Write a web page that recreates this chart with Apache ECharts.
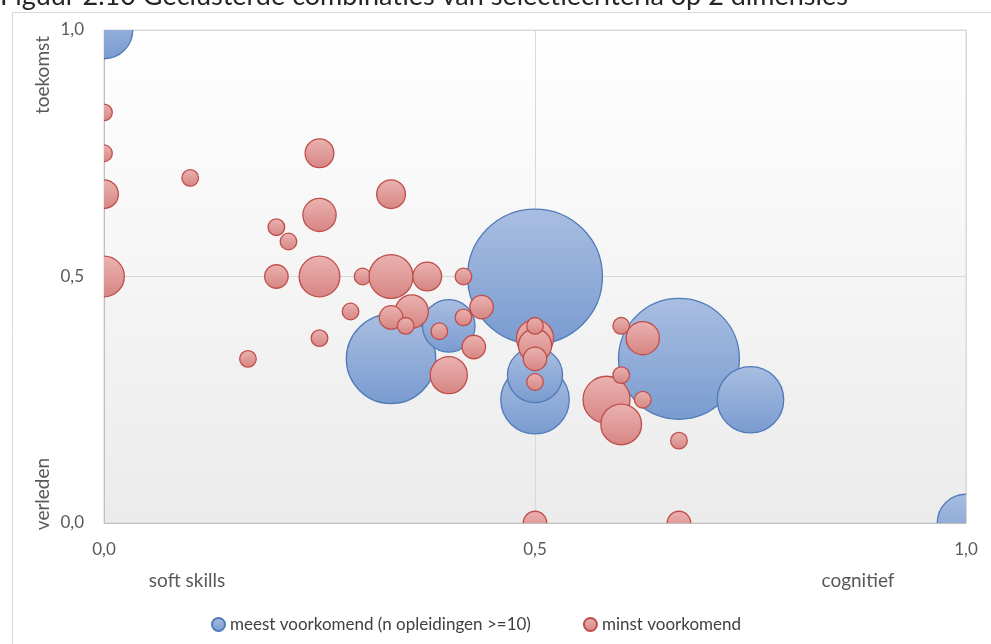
<!DOCTYPE html>
<html>
<head>
<meta charset="utf-8">
<script src="https://cdn.jsdelivr.net/npm/echarts@6/dist/echarts.min.js"></script>
<style>
html,body{margin:0;padding:0;background:#fff;}
#chart{width:991px;height:644px;}
</style>
</head>
<body>
<div id="chart"></div>
<script>
// ---- data: [x (soft skills -> cognitief), y (verleden -> toekomst), n opleidingen] ----
const seriesNames = ['meest voorkomend (n opleidingen >=10)', 'minst voorkomend'];
const blueData = [
  [0, 1, 12],
  [0.5, 0.5, 66],
  [0.667, 0.333, 53],
  [0.333, 0.333, 29],
  [0.4, 0.4, 10],
  [0.5, 0.25, 17],
  [0.5, 0.3, 11],
  [0.75, 0.25, 16],
  [1, 0, 12]
];
const redData = [
  [0, 0.833, 1],
  [0, 0.75, 1],
  [0, 0.667, 3],
  [0, 0.5, 6],
  [0.1, 0.7, 1],
  [0.167, 0.333, 1],
  [0.2, 0.6, 1],
  [0.2, 0.5, 2],
  [0.214, 0.571, 1],
  [0.25, 0.75, 3],
  [0.25, 0.625, 4],
  [0.25, 0.5, 6],
  [0.25, 0.375, 1],
  [0.286, 0.429, 1],
  [0.3, 0.5, 1],
  [0.333, 0.667, 3],
  [0.333, 0.5, 7],
  [0.357, 0.429, 4],
  [0.333, 0.417, 2],
  [0.35, 0.4, 1],
  [0.375, 0.5, 3],
  [0.389, 0.389, 1],
  [0.4, 0.3, 5],
  [0.417, 0.5, 1],
  [0.417, 0.417, 1],
  [0.429, 0.357, 2],
  [0.438, 0.438, 2],
  [0.5, 0.375, 5],
  [0.5, 0.36, 4],
  [0.5, 0.333, 2],
  [0.5, 0.4, 1],
  [0.5, 0.286, 1],
  [0.5, 0, 2],
  [0.583, 0.25, 8],
  [0.6, 0.2, 6],
  [0.6, 0.4, 1],
  [0.6, 0.3, 1],
  [0.625, 0.375, 4],
  [0.625, 0.25, 1],
  [0.667, 0.167, 1],
  [0.667, 0, 2]
];
const tickLabels = {0: '0,0', 0.5: '0,5', 1: '1,0'};
const titleText = 'Figuur 2.10 Geclusterde combinaties van selectiecriteria op 2 dimensies';
const axisNames = {left: 'soft skills', right: 'cognitief', top: 'toekomst', bottom: 'verleden'};

const FONT = 'Lato, "Open Sans", sans-serif';
const RADIUS_UNIT = 8.3; // radius of a bubble with n = 1 (area proportional to n)
const grad = (a, b) => new echarts.graphic.LinearGradient(0, 0, 0, 1, [{offset: 0, color: a}, {offset: 1, color: b}]);

const styles = [
  {fill: ['#a9bee1', '#7a9bd0'], stroke: '#4f7bb8'},
  {fill: ['#eab3b1', '#d68583'], stroke: '#bf4e4b'}
];

function bubbleRenderer(style) {
  return function (params, api) {
    const c = api.coord([api.value(0), api.value(1)]);
    const r = RADIUS_UNIT * Math.sqrt(api.value(2));
    return {
      type: 'circle',
      shape: {cx: c[0], cy: c[1], r: r},
      style: {fill: grad(style.fill[0], style.fill[1]), stroke: style.stroke, lineWidth: 1.3}
    };
  };
}

const chart = echarts.init(document.getElementById('chart'), null, {renderer: 'canvas'});
chart.setOption({
  animation: false,
  backgroundColor: '#ffffff',
  textStyle: {fontFamily: FONT},
  grid: {
    left: 104, right: 25, top: 30, bottom: 121,
    show: true,
    borderColor: '#d9d9d9', borderWidth: 1,
    backgroundColor: grad('#ffffff', '#ebebeb')
  },
  legend: {
    bottom: 6, left: 206,
    icon: 'circle', itemWidth: 13, itemHeight: 13, itemGap: 52,
    textStyle: {fontFamily: FONT, fontSize: 17, color: '#404040'},
    data: seriesNames
  },
  xAxis: {
    type: 'value', min: 0, max: 1, interval: 0.5,
    axisLine: {show: true, lineStyle: {color: '#bfbfbf', width: 1}},
    axisTick: {show: false},
    splitLine: {show: true, lineStyle: {color: '#d9d9d9', width: 1}},
    axisLabel: {margin: 18, fontSize: 17, color: '#595959', fontFamily: FONT,
      formatter: v => tickLabels[v]}
  },
  yAxis: {
    type: 'value', min: 0, max: 1, interval: 0.5,
    axisLine: {show: true, lineStyle: {color: '#bfbfbf', width: 1}},
    axisTick: {show: false},
    splitLine: {show: true, lineStyle: {color: '#d9d9d9', width: 1}},
    axisLabel: {margin: 20, fontSize: 17, color: '#595959', fontFamily: FONT,
      formatter: v => tickLabels[v]}
  },
  graphic: [
    {type: 'rect', left: 10, top: 10, silent: true, z: -10,
      shape: {x: 0.5, y: 0.5, width: 1000, height: 700},
      style: {fill: null, stroke: '#d9d9d9', lineWidth: 1}},
    {type: 'text', x: 0, y: -4, silent: true,
      style: {text: titleText, font: '27px ' + FONT, fill: '#262626', textVerticalAlign: 'middle'}},
    {type: 'text', x: 187, y: 581, silent: true,
      style: {text: axisNames.left, font: '19px ' + FONT, fill: '#595959', textAlign: 'center', textVerticalAlign: 'middle'}},
    {type: 'text', x: 858, y: 581, silent: true,
      style: {text: axisNames.right, font: '19px ' + FONT, fill: '#595959', textAlign: 'center', textVerticalAlign: 'middle'}},
    {type: 'text', x: 43, y: 75, rotation: Math.PI / 2, silent: true,
      style: {text: axisNames.top, font: '19px ' + FONT, fill: '#595959', textAlign: 'center', textVerticalAlign: 'middle'}},
    {type: 'text', x: 43, y: 494, rotation: Math.PI / 2, silent: true,
      style: {text: axisNames.bottom, font: '19px ' + FONT, fill: '#595959', textAlign: 'center', textVerticalAlign: 'middle'}}
  ],
  series: [
    {
      name: seriesNames[0], type: 'custom', clip: true,
      data: blueData, renderItem: bubbleRenderer(styles[0]),
      encode: {x: 0, y: 1},
      itemStyle: {color: grad(styles[0].fill[0], styles[0].fill[1]), borderColor: styles[0].stroke, borderWidth: 1}
    },
    {
      name: seriesNames[1], type: 'custom', clip: true,
      data: redData, renderItem: bubbleRenderer(styles[1]),
      encode: {x: 0, y: 1},
      itemStyle: {color: grad(styles[1].fill[0], styles[1].fill[1]), borderColor: styles[1].stroke, borderWidth: 1}
    }
  ]
});
</script>
</body>
</html>
